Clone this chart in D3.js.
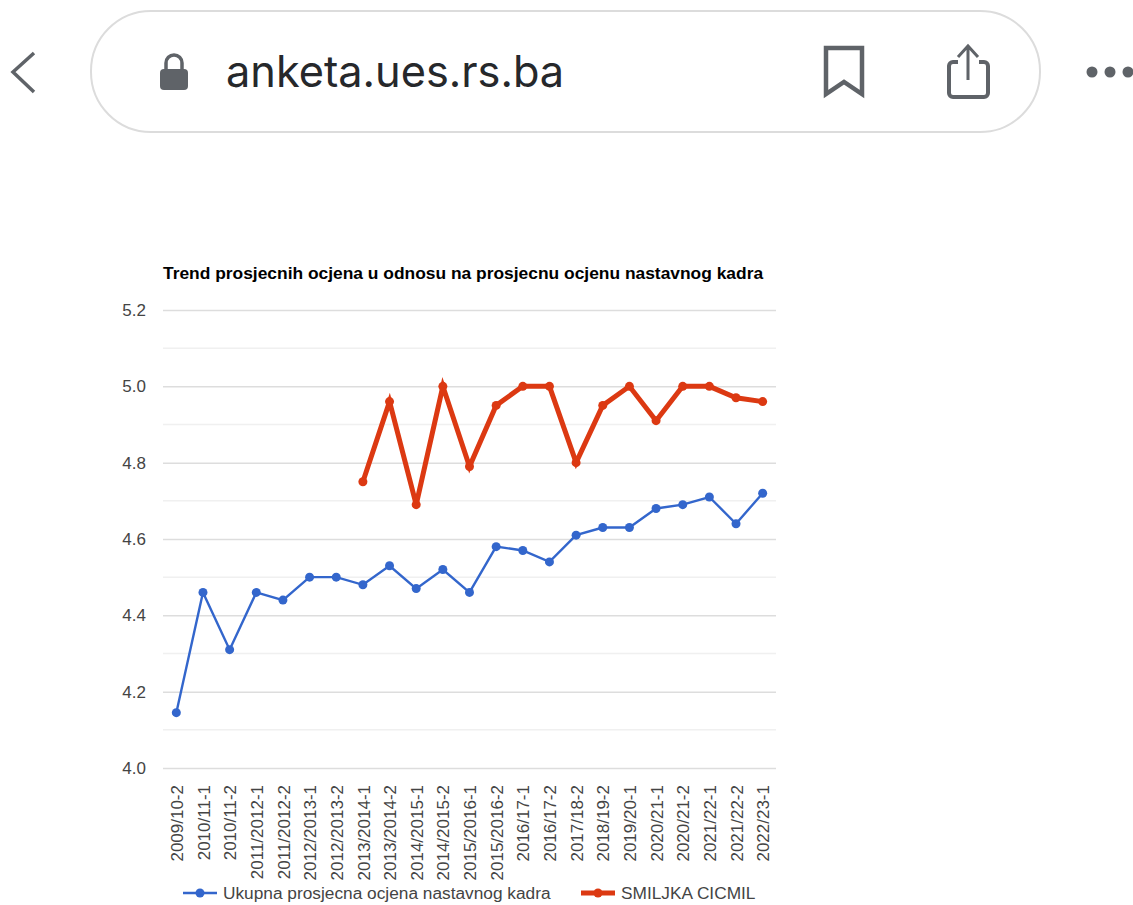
<!DOCTYPE html>
<html>
<head>
<meta charset="utf-8">
<script src="https://cdn.jsdelivr.net/npm/d3@7"></script>
<style>
  html, body { margin: 0; padding: 0; background: #fff; }
  svg { display: block; font-family: "Liberation Sans", Arial, sans-serif; }
</style>
</head>
<body>
<svg id="chart"></svg>
<script>
const categories = ['2009/10-2', '2010/11-1', '2010/11-2', '2011/2012-1', '2011/2012-2', '2012/2013-1',
  '2012/2013-2', '2013/2014-1', '2013/2014-2', '2014/2015-1', '2014/2015-2', '2015/2016-1', '2015/2016-2',
  '2016/17-1', '2016/17-2', '2017/18-2', '2018/19-2', '2019/20-1', '2020/21-1', '2020/21-2', '2021/22-1',
  '2021/22-2', '2022/23-1'];
const ukupna = [4.145, 4.46, 4.31, 4.46, 4.44, 4.5, 4.5, 4.48, 4.53, 4.47, 4.52, 4.46, 4.58, 4.57, 4.54,
  4.61, 4.63, 4.63, 4.68, 4.69, 4.71, 4.64, 4.72];
const smiljka = [null, null, null, null, null, null, null, 4.75, 4.96, 4.69, 5.0, 4.79, 4.95, 5.0, 5.0,
  4.8, 4.95, 5.0, 4.91, 5.0, 5.0, 4.97, 4.96];
const majorTicks = [4.0, 4.2, 4.4, 4.6, 4.8, 5.0, 5.2];
const minorTicks = [4.1, 4.3, 4.5, 4.7, 4.9, 5.1];
const seriesNames = ['Ukupna prosjecna ocjena nastavnog kadra', 'SMILJKA CICMIL'];
const title = 'Trend prosjecnih ocjena u odnosu na prosjecnu ocjenu nastavnog kadra';

const width = 1133, height = 905;
const margin = { top: 310, right: 357, bottom: 137, left: 163 };
const blue = '#3366cc', red = '#dc3912';

const svg = d3.select('#chart').attr('width', width).attr('height', height);

// Browser bar
const bar = svg.append('g');
bar.append('rect').attr('x', 91).attr('y', 11).attr('width', 949).attr('height', 121).attr('rx', 60)
  .attr('fill', '#fff').attr('stroke', '#dcdcdc').attr('stroke-width', 2);
bar.append('path').attr('d', 'M34 53 L13 72 L34 92').attr('fill', 'none')
  .attr('stroke', '#5f6368').attr('stroke-width', 3.5);
// lock
bar.append('rect').attr('x', 160).attr('y', 69).attr('width', 28).attr('height', 21).attr('rx', 4).attr('fill', '#5f6368');
bar.append('path').attr('d', 'M166 70 V63 a8 8 0 0 1 16 0 V70').attr('fill', 'none')
  .attr('stroke', '#5f6368').attr('stroke-width', 3.5);
bar.append('text').attr('x', 226).attr('y', 87).attr('font-family', 'Inter, Roboto, sans-serif')
  .attr('font-size', 43.3).attr('fill', '#26282b').text('anketa.ues.rs.ba');
// bookmark
bar.append('path').attr('d', 'M826 48 H862 V94 L844 82 L826 94 Z').attr('fill', 'none')
  .attr('stroke', '#5f6368').attr('stroke-width', 4.5);
// share
bar.append('path').attr('d', 'M958 62 H953 a4 4 0 0 0 -4 4 V93 a4 4 0 0 0 4 4 H984 a4 4 0 0 0 4 -4 V66 a4 4 0 0 0 -4 -4 H979').attr('fill', 'none')
  .attr('stroke', '#5f6368').attr('stroke-width', 4);
bar.append('path').attr('d', 'M968 80 V48 M958 57 L968 46 L978 57').attr('fill', 'none')
  .attr('stroke', '#5f6368').attr('stroke-width', 3);
bar.selectAll('circle.dot').data([1092, 1110, 1128]).enter().append('circle')
  .attr('class', 'dot').attr('cx', d => d).attr('cy', 72).attr('r', 5.5).attr('fill', '#5f6368');

// Scales
const x = d3.scaleBand().domain(categories).range([margin.left, width - margin.right]);
const y = d3.scaleLinear().domain([4.0, 5.2]).range([height - margin.bottom, margin.top]);
const cx = i => x(categories[i]) + x.bandwidth() / 2;

// Title
svg.append('text').attr('x', margin.left).attr('y', 279)
  .attr('font-size', 17.4).attr('font-weight', 'bold').attr('fill', '#000').text(title);

// Gridlines
svg.append('g').selectAll('line').data(minorTicks).enter().append('line')
  .attr('x1', margin.left).attr('x2', width - margin.right)
  .attr('y1', d => y(d)).attr('y2', d => y(d))
  .attr('stroke', '#f0f0f0').attr('stroke-width', 1.5);

// Y axis
const yAxis = svg.append('g').attr('transform', `translate(${margin.left},0)`)
  .call(d3.axisLeft(y).tickValues(majorTicks).tickFormat(d3.format('.1f'))
    .tickSize(-(width - margin.left - margin.right)).tickPadding(17));
yAxis.select('.domain').remove();
yAxis.selectAll('line').attr('stroke', '#dddddd').attr('stroke-width', 1.5);
yAxis.selectAll('text').attr('font-size', 17).attr('fill', '#444').attr('font-family', '"Liberation Sans", Arial, sans-serif');

// X axis
const xAxis = svg.append('g').attr('transform', `translate(0.5,${height - margin.bottom})`)
  .call(d3.axisBottom(x).tickSize(0));
xAxis.select('.domain').remove();
xAxis.selectAll('text')
  .attr('transform', 'rotate(-90)')
  .attr('text-anchor', 'end')
  .attr('x', -17).attr('y', 0).attr('dy', '0.36em')
  .attr('font-size', 17).attr('fill', '#444').attr('font-family', '"Liberation Sans", Arial, sans-serif');

// Series
function drawSeries(values, color, lineWidth, r) {
  const line = d3.line().defined(d => d != null).x((d, i) => cx(i)).y(d => y(d));
  svg.append('path').attr('d', line(values)).attr('fill', 'none')
    .attr('stroke', color).attr('stroke-width', lineWidth);
  svg.append('g').selectAll('circle')
    .data(values.map((v, i) => ({ v, i })).filter(d => d.v != null))
    .enter().append('circle')
    .attr('cx', d => cx(d.i)).attr('cy', d => y(d.v)).attr('r', r).attr('fill', color);
}
drawSeries(ukupna, blue, 2.4, 4.5);
drawSeries(smiljka, red, 5, 4.5);

// Legend
const legendItems = [
  { name: seriesNames[0], color: blue, lw: 2.4, lineX: 183, textX: 223 },
  { name: seriesNames[1], color: red, lw: 5, lineX: 581, textX: 621 }
];
const legend = svg.append('g').selectAll('g').data(legendItems).enter().append('g');
legend.append('line').attr('x1', d => d.lineX).attr('x2', d => d.lineX + 34)
  .attr('y1', 893).attr('y2', 893).attr('stroke', d => d.color).attr('stroke-width', d => d.lw);
legend.append('circle').attr('cx', d => d.lineX + 17).attr('cy', 893).attr('r', 4.5).attr('fill', d => d.color);
legend.append('text').attr('x', d => d.textX).attr('y', 899).attr('font-size', 17.3).attr('fill', '#444').text(d => d.name);
</script>
</body>
</html>
